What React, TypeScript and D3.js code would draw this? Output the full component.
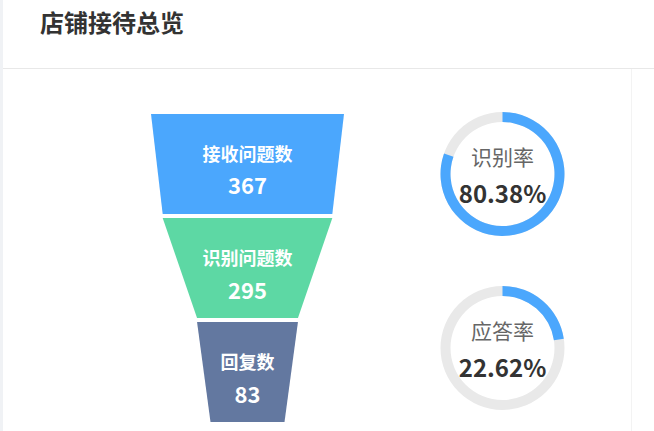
import React from 'react';
import * as d3 from 'd3';

const funnelLabels = ['接收问题数', '识别问题数', '回复数'];
const funnelValues = [367, 295, 83];
const funnelColors = ['#4ba7fd', '#5dd8a4', '#6378a0'];

const gaugeLabels = ['识别率', '应答率'];
const gaugeValues = [80.38, 22.62];

const W = 654;
const H = 431;
const FONT = '"Noto Sans CJK SC", "Noto Sans", sans-serif';

const App: React.FC = () => {
  const cx = 247.5;
  const widthScale = d3.scaleLinear().domain([0, d3.max(funnelValues) || 1]).range([74, 193]);
  const yBand = d3.scaleBand<string>().domain(funnelLabels).range([114, 422]).paddingInner(0.0385).paddingOuter(0);

  const trapezoid = (i: number) => {
    const y0 = yBand(funnelLabels[i]) || 0;
    const y1 = y0 + yBand.bandwidth();
    const wTop = widthScale(funnelValues[i]);
    const wBot = widthScale(i + 1 < funnelValues.length ? funnelValues[i + 1] : 0);
    const pts: [number, number][] = [
      [cx - wTop / 2, y0],
      [cx + wTop / 2, y0],
      [cx + wBot / 2, y1],
      [cx - wBot / 2, y1],
    ];
    return d3.line()(pts.concat([pts[0]])) || '';
  };

  const gaugeY = d3.scalePoint<string>().domain(gaugeLabels).range([174, 348]);
  const gaugeX = 502.5;
  const angle = d3.scaleLinear().domain([0, 100]).range([0, Math.PI * 2]);
  const ring = d3.arc<{ startAngle: number; endAngle: number }>().innerRadius(52).outerRadius(62);

  return (
    <svg
      width={W}
      height={H}
      style={{ position: 'absolute', left: 0, top: 0, background: '#fff' }}
      fontFamily={FONT}
    >
      <rect x={0} y={0} width={3} height={H} fill="#f0f2f5" />
      <text x={40} y={21} fontSize={24} fontWeight="bold" fill="#333" dominantBaseline="central">
        店铺接待总览
      </text>
      <line x1={3} x2={W} y1={68.5} y2={68.5} stroke="#e8e8e8" />
      <line x1={631.5} x2={631.5} y1={69} y2={H} stroke="#f3f3f3" />

      {funnelLabels.map((label, i) => {
        const yc = (yBand(label) || 0) + yBand.bandwidth() / 2;
        return (
          <g key={label}>
            <path d={trapezoid(i)} fill={funnelColors[i]} />
            <text x={cx} y={yc - 11} textAnchor="middle" dominantBaseline="central" fill="#fff" fontSize={18} fontWeight="bold">
              {label}
            </text>
            <text x={cx} y={yc + 20.5} textAnchor="middle" dominantBaseline="central" fill="#fff" fontSize={22} fontWeight="bold">
              {funnelValues[i]}
            </text>
          </g>
        );
      })}

      {gaugeLabels.map((label, i) => {
        const cy = gaugeY(label) || 0;
        return (
          <g key={label} transform={`translate(${gaugeX},${cy})`}>
            <path d={ring({ startAngle: 0, endAngle: Math.PI * 2 }) || ''} fill="#e9e9e9" />
            <path d={ring({ startAngle: 0, endAngle: angle(gaugeValues[i]) }) || ''} fill="#4ba7fd" />
            <text y={-18} textAnchor="middle" dominantBaseline="central" fill="#666" fontSize={21}>
              {label}
            </text>
            <text y={18.5} textAnchor="middle" dominantBaseline="central" fill="#333" fontSize={24} fontWeight="bold">
              {gaugeValues[i].toFixed(2)}%
            </text>
          </g>
        );
      })}
    </svg>
  );
};

export default App;
